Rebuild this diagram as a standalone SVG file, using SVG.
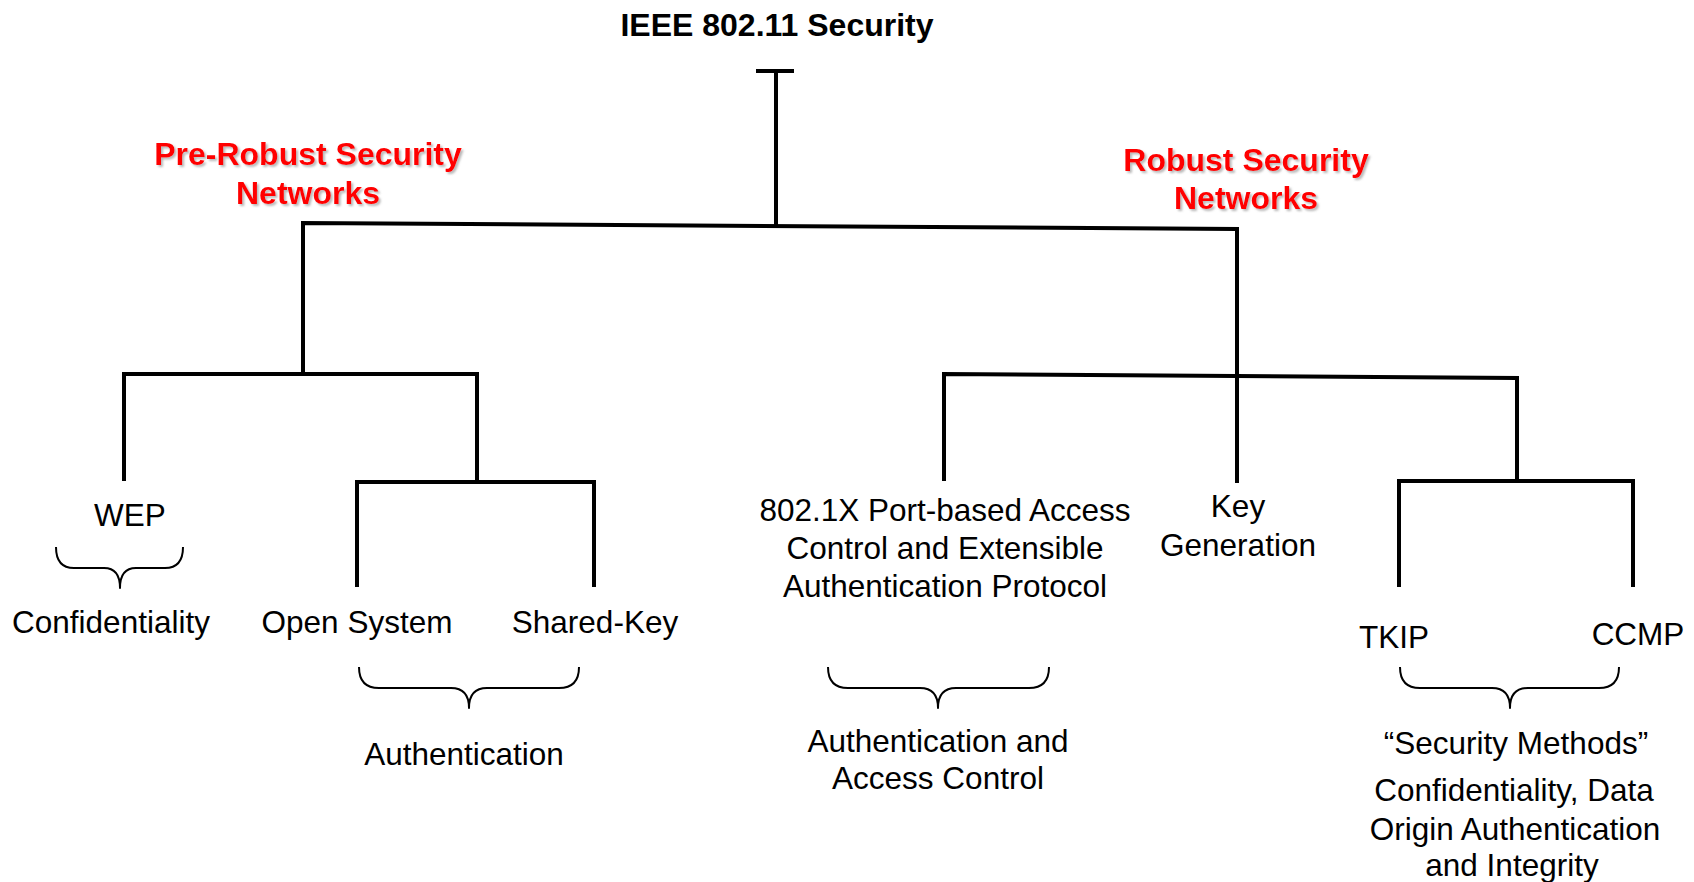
<svg xmlns="http://www.w3.org/2000/svg" width="1694" height="882" viewBox="0 0 1694 882">
  <style>
    .title { font-family: "Liberation Sans", Arial, sans-serif; font-size: 32px; font-weight: bold; fill: #000; text-anchor: middle; }
    .group { font-family: "Liberation Sans", Arial, sans-serif; font-size: 32px; font-weight: bold; fill: #ff0000; text-anchor: middle; filter: url(#shadow); }
    .label { font-family: "Liberation Sans", Arial, sans-serif; font-size: 31.5px; fill: #000; text-anchor: middle; }
    .tree { fill: none; stroke: #000; stroke-width: 4; stroke-linejoin: miter; stroke-linecap: butt; }
    .brace { fill: none; stroke: #000; stroke-width: 2; stroke-linejoin: round; }
  </style>
  <defs>
    <filter id="shadow" x="-10%" y="-30%" width="120%" height="160%">
      <feDropShadow dx="2" dy="2" stdDeviation="1" flood-color="#808080" flood-opacity="0.55"/>
    </filter>
  </defs>
  <rect width="1694" height="882" fill="#fff"/>

  <!-- tree connectors -->
  <g id="connectors">
    <!-- root stem with its cap -->
    <path class="tree" d="M756 71 L794 71 M776 71 L776 226"/>
    <!-- main split -->
    <path class="tree" d="M303 374 L303 223 L1237 229 L1237 483"/>
    <!-- pre-RSN split -->
    <path class="tree" d="M124 481 L124 374 L477 374 L477 482"/>
    <path class="tree" d="M357 587 L357 482 L594 482 L594 587"/>
    <!-- RSN split -->
    <path class="tree" d="M944 481 L944 374 L1517 378 L1517 482"/>
    <path class="tree" d="M1399 587 L1399 481 L1633 481 L1633 587"/>
  </g>

  <!-- curly braces -->
  <g id="braces">
    <path class="brace" d="M56 547 Q56 568 74 568 L104 568 Q120 568 120 588 Q120 568 136 568 L165 568 Q183 568 183 547"/>
    <path class="brace" d="M359 667 Q359 688 379 688 L451 688 Q469 688 469 708 Q469 688 487 688 L559 688 Q579 688 579 667"/>
    <path class="brace" d="M828 667 Q828 688 848 688 L920 688 Q938 688 938 708 Q938 688 956 688 L1029 688 Q1049 688 1049 667"/>
    <path class="brace" d="M1400 667 Q1400 688 1420 688 L1492 688 Q1510 688 1510 708 Q1510 688 1528 688 L1599 688 Q1619 688 1619 667"/>
  </g>

  <g id="root">
    <text class="title" x="777" y="36">IEEE 802.11 Security</text>
  </g>

  <g id="pre-rsn">
    <text class="group" x="308" y="165">Pre-Robust Security</text>
    <text class="group" x="308" y="204">Networks</text>
  </g>

  <g id="rsn">
    <text class="group" x="1246" y="171">Robust Security</text>
    <text class="group" x="1246" y="209">Networks</text>
  </g>

  <g id="wep">
    <text class="label" x="130" y="526">WEP</text>
  </g>
  <g id="confidentiality">
    <text class="label" x="111" y="633">Confidentiality</text>
  </g>

  <g id="open-system">
    <text class="label" x="357" y="633">Open System</text>
  </g>
  <g id="shared-key">
    <text class="label" x="595" y="633">Shared-Key</text>
  </g>
  <g id="authentication">
    <text class="label" x="464" y="765">Authentication</text>
  </g>

  <g id="ieee8021x">
    <text class="label" x="945" y="521">802.1X Port-based Access</text>
    <text class="label" x="945" y="559">Control and Extensible</text>
    <text class="label" x="945" y="597">Authentication Protocol</text>
  </g>
  <g id="auth-access">
    <text class="label" x="938" y="752">Authentication and</text>
    <text class="label" x="938" y="789">Access Control</text>
  </g>

  <g id="key-generation">
    <text class="label" x="1238" y="517">Key</text>
    <text class="label" x="1238" y="556">Generation</text>
  </g>

  <g id="tkip">
    <text class="label" x="1394" y="648">TKIP</text>
  </g>
  <g id="ccmp">
    <text class="label" x="1638" y="645">CCMP</text>
  </g>
  <g id="security-methods">
    <text class="label" x="1516" y="754">“Security Methods”</text>
    <text class="label" x="1514" y="801">Confidentiality, Data</text>
    <text class="label" x="1515" y="840">Origin Authentication</text>
    <text class="label" x="1512" y="876">and Integrity</text>
  </g>
</svg>
